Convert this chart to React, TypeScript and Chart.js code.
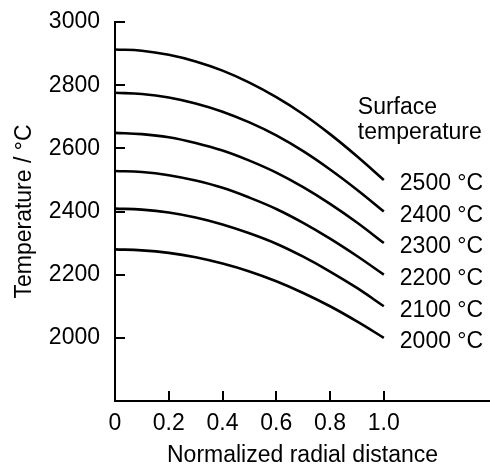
import React, { useEffect, useRef } from 'react';
import { Chart, registerables } from 'chart.js';

Chart.register(...registerables);

const radialDistance = [0, 0.1, 0.2, 0.3, 0.4, 0.5, 0.6, 0.7, 0.8, 0.9, 1.0];
const surfaceTemps = [2500, 2400, 2300, 2200, 2100, 2000];
const temp2500 = [2913, 2909, 2896, 2875, 2846, 2808, 2762, 2708, 2645, 2575, 2500];
const temp2400 = [2776, 2772, 2761, 2742, 2716, 2682, 2641, 2591, 2533, 2469, 2400];
const temp2300 = [2649, 2645, 2635, 2617, 2593, 2561, 2523, 2477, 2424, 2365, 2300];
const temp2200 = [2528, 2525, 2515, 2498, 2475, 2444, 2408, 2364, 2314, 2259, 2200];
const temp2100 = [2409, 2406, 2397, 2381, 2359, 2331, 2298, 2257, 2210, 2158, 2100];
const temp2000 = [2280, 2277, 2269, 2255, 2235, 2210, 2179, 2142, 2100, 2052, 2000];
const seriesValues = [temp2500, temp2400, temp2300, temp2200, temp2100, temp2000];
const xTicks = [0, 0.2, 0.4, 0.6, 0.8, 1.0];
const yTicks = [2000, 2200, 2400, 2600, 2800, 3000];

const FONT = '"Liberation Sans", Arial, Helvetica, sans-serif';

const labelPlugin = {
  id: 'surfaceLabels',
  afterDraw(chart: any) {
    const { ctx, scales } = chart;
    const x = scales.x;
    const y = scales.y;
    ctx.save();
    ctx.font = `23px ${FONT}`;
    ctx.fillStyle = '#000';
    ctx.textBaseline = 'middle';
    ctx.textAlign = 'left';
    const xEnd = x.getPixelForValue(1.0);
    surfaceTemps.forEach((t) => {
      ctx.fillText(`${t} °C`, xEnd + 16, y.getPixelForValue(t) + 4);
    });
    const topY = y.getPixelForValue(surfaceTemps[0]);
    ctx.fillText('Surface', xEnd - 26, topY - 72);
    ctx.fillText('temperature', xEnd - 26, topY - 47);
    ctx.restore();
  },
};

export default function App() {
  const canvasRef = useRef<HTMLCanvasElement | null>(null);

  useEffect(() => {
    const canvas = canvasRef.current;
    if (!canvas) return;
    Chart.defaults.font.family = FONT;
    const chart = new Chart(canvas, {
      type: 'line',
      data: {
        datasets: seriesValues.map((vals, i) => ({
          label: `${surfaceTemps[i]} °C`,
          data: radialDistance.map((r, j) => ({ x: r, y: vals[j] })),
          borderColor: '#000',
          borderWidth: 2.6,
          pointRadius: 0,
          fill: false,
          tension: 0.4,
        })),
      },
      options: {
        animation: false,
        responsive: false,
        devicePixelRatio: 1,
        layout: { padding: { top: 22, left: 0, right: 0, bottom: 0 } },
        plugins: {
          legend: { display: false },
          tooltip: { enabled: false },
        },
        scales: {
          x: {
            type: 'linear',
            min: 0,
            max: 1.395,
            afterBuildTicks: (s: any) => {
              s.ticks = xTicks.map((v) => ({ value: v }));
            },
            afterFit: (s: any) => {
              s.height = 66;
              s.paddingLeft = 0;
              s.paddingRight = 0;
            },
            grid: {
              display: true,
              drawOnChartArea: false,
              drawTicks: true,
              tickLength: -10,
              color: '#000',
              lineWidth: 2,
            },
            border: { display: true, color: '#000', width: 2 },
            ticks: {
              padding: 19,
              color: '#000',
              font: { size: 23, family: FONT },
              maxRotation: 0,
              autoSkip: false,
              callback: (v: any) => (Number(v) === 0 ? '0' : Number(v).toFixed(1)),
            },
            title: {
              display: true,
              text: 'Normalized radial distance',
              color: '#000',
              font: { size: 23, family: FONT },
              padding: { top: 0, bottom: -2 },
            },
          },
          y: {
            type: 'linear',
            min: 1800,
            max: 3000,
            afterBuildTicks: (s: any) => {
              s.ticks = yTicks.map((v) => ({ value: v }));
            },
            afterFit: (s: any) => {
              s.width = 115;
              s.paddingTop = 0;
              s.paddingBottom = 0;
            },
            grid: {
              display: true,
              drawOnChartArea: false,
              drawTicks: true,
              tickLength: -10,
              color: '#000',
              lineWidth: 2,
            },
            border: { display: true, color: '#000', width: 2 },
            ticks: {
              padding: 25,
              color: '#000',
              font: { size: 23, family: FONT },
              autoSkip: false,
              callback: (v: any) => String(v),
            },
            title: {
              display: true,
              text: 'Temperature / °C',
              color: '#000',
              font: { size: 23, family: FONT },
              padding: { top: 11, bottom: 0 },
            },
          },
        },
      },
      plugins: [labelPlugin],
    });
    return () => chart.destroy();
  }, []);

  return (
    <div style={{ position: 'fixed', left: 0, top: 0, width: 490, height: 467, background: '#fff' }}>
      <canvas ref={canvasRef} width={490} height={467} style={{ width: 490, height: 467 }} />
    </div>
  );
}
